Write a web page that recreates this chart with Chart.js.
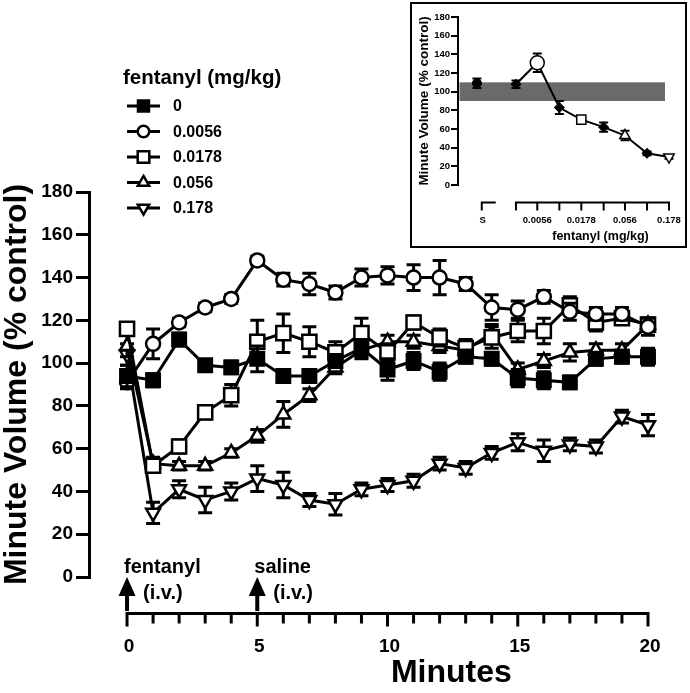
<!DOCTYPE html>
<html>
<head>
<meta charset="utf-8">
<script src="https://cdn.jsdelivr.net/npm/chart.js@4.4.1/dist/chart.umd.min.js"></script>
<style>
  body { margin: 0; background: #fff; overflow: hidden; }
  #main { position: absolute; left: 0; top: 0; }
  #insetBox { position: absolute; left: 410px; top: 2px; width: 273px; height: 242px; border: 2px solid #000; background: #fff; }
  #inset { display: block; }
</style>
</head>
<body>
<canvas id="main" width="690" height="693"></canvas>
<div id="insetBox"><canvas id="inset" width="273" height="242"></canvas></div>
<script>
// -- Data: main time course --
const minutes = [0, 1, 2, 3, 4, 5, 6, 7, 8, 9, 10, 11, 12, 13, 14, 15, 16, 17, 18, 19, 20];
const doseLabels = ['0', '0.0056', '0.0178', '0.056', '0.178'];

const vol0    = [94, 92, 111, 99, 98, 102, 94, 94, 101, 107, 97, 101, 96, 103, 102, 93, 92, 91, 102, 103, 103];
const vol0056 = [91, 109, 119, 126, 130, 148, 139, 137, 133, 140, 141, 140, 140, 137, 126, 125, 131, 124, 123, 123, 117];
const vol0178 = [116, 52, 61, 77, 85, 110, 114, 110, 105, 114, 105, 119, 112, 107, 112, 115, 115, 127, 119, 121, 118];
const vol056  = [108, 53, 52, 52, 58, 66, 76, 85, 98, 106, 110, 110, 108, 106, 114, 97, 101, 105, 106, 106, 118];
const vol178  = [104, 30, 41, 36, 40, 46, 43, 36, 34, 41, 43, 45, 53, 51, 58, 63, 59, 62, 61, 75, 71];

const err0    = [5, 3, 3, 2, 3, 6, 3, 3, 3, 4, 5, 4, 4, 3, 3, 4, 4, 3, 3, 3, 4];
const err0056 = [3, 7, 2, 2, 2, 2, 3, 5, 3, 4, 4, 6, 8, 3, 6, 4, 3, 4, 3, 3, 4];
const err0178 = [3, 3, 3, 3, 5, 10, 9, 7, 5, 7, 4, 3, 4, 4, 5, 5, 6, 4, 4, 3, 3];
const err056  = [5, 3, 2, 2, 2, 3, 6, 3, 3, 4, 3, 3, 3, 3, 4, 3, 3, 4, 3, 3, 3];
const err178  = [5, 5, 4, 6, 4, 6, 6, 3, 5, 3, 3, 3, 3, 3, 3, 4, 5, 3, 3, 3, 5];

const xTickLabels = [0, 5, 10, 15, 20];
const injections = [{ minute: 0, drug: 'fentanyl' }, { minute: 5, drug: 'saline' }];

// -- Data: inset dose-response --
const insetDoses = [0.0032, 0.0056, 0.01, 0.0178, 0.032, 0.056, 0.1, 0.178];
const insetValues = [108, 131, 83, 70, 62, 53, 34, 30];
const insetErrors = [4, 10, 7, 2, 5, 5, 2, 2];
const insetTickLabels = ['', '0.0056', '', '0.0178', '', '0.056', '', '0.178'];
const salineValue = 109;
const salineError = 5;
const controlBand = [90, 110];

const FONT = '"Liberation Sans", Arial, Helvetica, sans-serif';
Chart.defaults.font.family = FONT;
Chart.defaults.color = '#000';

function toPoints(xs, ys) {
    return xs.map((x, i) => ({ x: x, y: ys[i] }));
}

// simple marker, same shapes as chart.js uses
function drawMarker(ctx, style, x, y, r, rot, fill, lw) {
    ctx.save();
    ctx.beginPath();
    if (style === 'circle') {
        ctx.arc(x, y, r, 0, Math.PI * 2);
    } else if (style === 'rect') {
        const s = r * Math.SQRT1_2;
        ctx.rect(x - s, y - s, 2 * s, 2 * s);
    } else if (style === 'triangle') {
        const d = rot === 180 ? -1 : 1;
        ctx.moveTo(x, y - d * r);
        ctx.lineTo(x + r * 0.866, y + d * r / 2);
        ctx.lineTo(x - r * 0.866, y + d * r / 2);
        ctx.closePath();
    }
    ctx.fillStyle = fill;
    ctx.fill();
    ctx.lineWidth = lw;
    ctx.strokeStyle = '#000';
    ctx.stroke();
    ctx.restore();
}

// -- Error bars (drawn behind each dataset's markers) --
const errorBars = {
    id: 'errorBars',
    beforeDatasetDraw(chart, args, opts) {
        const ds = chart.data.datasets[args.index];
        if (!ds.errors) return;
        const ctx = chart.ctx;
        const yScale = chart.scales.y;
        ctx.save();
        ctx.strokeStyle = '#000';
        ctx.lineWidth = opts.lineWidth || 3;
        const cap = opts.cap || 7;
        args.meta.data.forEach((pt, i) => {
            const e = ds.errors[i];
            if (!e) return;
            const v = ds.data[i].y;
            const top = yScale.getPixelForValue(v + e);
            const bot = yScale.getPixelForValue(v - e);
            ctx.beginPath();
            ctx.moveTo(pt.x, top); ctx.lineTo(pt.x, bot);
            ctx.moveTo(pt.x - cap, top); ctx.lineTo(pt.x + cap, top);
            ctx.moveTo(pt.x - cap, bot); ctx.lineTo(pt.x + cap, bot);
            ctx.stroke();
        });
        ctx.restore();
    }
};

// -- Main chart decorations: offset x axis, legend, injection arrows --
const mainDecor = {
    id: 'mainDecor',
    afterDraw(chart) {
        const ctx = chart.ctx;
        const xs = chart.scales.x;
        const area = chart.chartArea;
        const axisY = area.bottom + 36.5;
        ctx.save();
        ctx.strokeStyle = '#000';
        ctx.fillStyle = '#000';

        // x axis
        ctx.lineWidth = 3;
        ctx.beginPath();
        ctx.moveTo(xs.getPixelForValue(0) - 1.5, axisY);
        ctx.lineTo(xs.getPixelForValue(20) + 1.5, axisY);
        for (let m = 0; m <= 20; m++) {
            const px = xs.getPixelForValue(m);
            ctx.moveTo(px, axisY);
            ctx.lineTo(px, axisY + (m % 5 === 0 ? 13 : 10));
        }
        ctx.stroke();
        ctx.font = 'bold 19px ' + FONT;
        ctx.textAlign = 'center';
        ctx.textBaseline = 'middle';
        xTickLabels.forEach(t => ctx.fillText(String(t), xs.getPixelForValue(t) + 2, axisY + 33));
        ctx.font = 'bold 32px ' + FONT;
        ctx.fillText('Minutes', xs.getPixelForValue(12.45), axisY + 60);

        // injection arrows
        injections.forEach(inj => {
            const px = xs.getPixelForValue(inj.minute);
            ctx.beginPath();
            ctx.moveTo(px, area.bottom);
            ctx.lineTo(px + 8.5, area.bottom + 19);
            ctx.lineTo(px - 8.5, area.bottom + 19);
            ctx.closePath();
            ctx.fill();
            ctx.fillRect(px - 2, area.bottom + 18, 4, 16);
            ctx.font = 'bold 20px ' + FONT;
            ctx.textAlign = 'left';
            ctx.textBaseline = 'alphabetic';
            ctx.fillText(inj.drug, px - 3, area.bottom - 4);
            ctx.textBaseline = 'middle';
            ctx.fillText('(i.v.)', px + 16, area.bottom + 16);
        });

        // legend
        ctx.font = 'bold 20.5px ' + FONT;
        ctx.textAlign = 'left';
        ctx.textBaseline = 'middle';
        ctx.fillText('fentanyl (mg/kg)', 123, 78);
        ctx.font = 'bold 16px ' + FONT;
        chart.data.datasets.forEach((ds, i) => {
            const ly = 106 + i * 25.5;
            ctx.lineWidth = 3;
            ctx.beginPath();
            ctx.moveTo(127, ly); ctx.lineTo(160, ly);
            ctx.stroke();
            drawMarker(ctx, ds.pointStyle, 143.5, ly, ds.pointRadius * 0.82, ds.pointRotation || 0,
                ds.pointBackgroundColor, 2.5);
            ctx.fillStyle = '#000';
            ctx.fillText(ds.label, 173, ly + 1);
        });
        ctx.restore();
    }
};

function series(label, values, errors, style, radius, fill, rotation) {
    return {
        label: label,
        data: toPoints(minutes, values),
        errors: errors,
        borderColor: '#000',
        borderWidth: 3,
        pointStyle: style,
        pointRadius: radius,
        pointRotation: rotation || 0,
        pointBackgroundColor: fill,
        pointBorderColor: '#000',
        pointBorderWidth: 2.5,
        tension: 0,
        clip: false
    };
}

new Chart(document.getElementById('main').getContext('2d'), {
    type: 'line',
    data: {
        datasets: [
            series(doseLabels[0], vol0, err0, 'rect', 9.5, '#000'),
            series(doseLabels[1], vol0056, err0056, 'circle', 7, '#fff'),
            series(doseLabels[2], vol0178, err0178, 'rect', 10, '#fff'),
            series(doseLabels[3], vol056, err056, 'triangle', 8, '#fff'),
            series(doseLabels[4], vol178, err178, 'triangle', 8, '#fff', 180)
        ]
    },
    options: {
        responsive: false,
        animation: false,
        devicePixelRatio: 1,
        layout: { padding: { left: 0, top: 192, right: 42, bottom: 116 } },
        plugins: {
            legend: { display: false },
            tooltip: { enabled: false },
            errorBars: { lineWidth: 3, cap: 7 }
        },
        scales: {
            x: { type: 'linear', min: -1.46, max: 20, display: false },
            y: {
                min: 0,
                max: 180,
                afterFit: s => { s.width = 89; },
                ticks: { stepSize: 20, padding: 3, color: '#000', font: { size: 19, weight: 'bold' } },
                grid: { drawOnChartArea: false, drawTicks: true, tickLength: 13, color: '#000', lineWidth: 3 },
                border: { color: '#000', width: 3 },
                title: {
                    display: true,
                    text: 'Minute Volume (% control)',
                    color: '#000',
                    font: { size: 32, weight: 'bold', lineHeight: 1.1 },
                    padding: { top: 0, bottom: 0 }
                }
            }
        }
    },
    plugins: [errorBars, mainDecor]
});

// -- Inset: dose-response --
const salineX = Math.log10(insetDoses[0]) - 0.445;

const insetDecor = {
    id: 'insetDecor',
    beforeDatasetsDraw(chart) {
        const ctx = chart.ctx;
        const xs = chart.scales.x, ys = chart.scales.y;
        const a = chart.chartArea;
        const top = ys.getPixelForValue(controlBand[1]);
        const bot = ys.getPixelForValue(controlBand[0]);
        const right = xs.getPixelForValue(Math.log10(insetDoses[insetDoses.length - 1])) - 4;
        ctx.save();
        ctx.fillStyle = '#6a6a6a';
        ctx.fillRect(a.left + 1.5, top, right - a.left - 1.5, bot - top);
        ctx.restore();
    },
    afterDraw(chart) {
        const ctx = chart.ctx;
        const xs = chart.scales.x;
        const axisY = chart.chartArea.bottom + 17.5;
        ctx.save();
        ctx.strokeStyle = '#000';
        ctx.fillStyle = '#000';
        ctx.lineWidth = 2;
        // saline bracket
        const sx = xs.getPixelForValue(salineX + 0.055);
        ctx.beginPath();
        ctx.moveTo(sx, axisY + 8); ctx.lineTo(sx, axisY); ctx.lineTo(sx + 14, axisY);
        // fentanyl axis
        const x0 = xs.getPixelForValue(Math.log10(insetDoses[0]));
        const x1 = xs.getPixelForValue(Math.log10(insetDoses[insetDoses.length - 1]));
        ctx.moveTo(x0 - 1, axisY); ctx.lineTo(x1 + 1, axisY);
        insetDoses.forEach(d => {
            const px = xs.getPixelForValue(Math.log10(d));
            ctx.moveTo(px, axisY); ctx.lineTo(px, axisY + 8);
        });
        ctx.stroke();
        ctx.font = 'bold 9.5px ' + FONT;
        ctx.textAlign = 'center';
        ctx.textBaseline = 'middle';
        ctx.fillText('S', sx + 1, axisY + 17.5);
        insetDoses.forEach((d, i) => {
            if (insetTickLabels[i]) ctx.fillText(insetTickLabels[i], xs.getPixelForValue(Math.log10(d)), axisY + 17.5);
        });
        ctx.font = 'bold 12.5px ' + FONT;
        ctx.fillText('fentanyl (mg/kg)', (x0 + x1) / 2 + 8, axisY + 34);
        ctx.restore();
    }
};

new Chart(document.getElementById('inset').getContext('2d'), {
    type: 'line',
    data: {
        datasets: [
            {
                label: 'fentanyl',
                data: toPoints(insetDoses.map(d => Math.log10(d)), insetValues),
                errors: insetErrors,
                borderColor: '#000',
                borderWidth: 2,
                pointStyle: ['rectRot', 'circle', 'rectRot', 'rect', 'rectRot', 'triangle', 'rectRot', 'triangle'],
                pointRadius: [4.5, 7, 4.5, 6.5, 4.5, 6, 4.5, 6],
                pointRotation: [0, 0, 0, 0, 0, 0, 0, 180],
                pointBackgroundColor: ['#000', '#fff', '#000', '#fff', '#000', '#fff', '#000', '#fff'],
                pointBorderColor: '#000',
                pointBorderWidth: 1.5,
                clip: false
            },
            {
                label: 'saline',
                data: [{ x: salineX, y: salineValue }],
                errors: [salineError],
                showLine: false,
                pointStyle: 'circle',
                pointRadius: 4.5,
                pointBackgroundColor: '#000',
                pointBorderColor: '#000',
                pointBorderWidth: 1,
                clip: false
            }
        ]
    },
    options: {
        responsive: false,
        animation: false,
        devicePixelRatio: 1,
        layout: { padding: { left: 0, top: 13, right: 16, bottom: 61 } },
        plugins: {
            legend: { display: false },
            tooltip: { enabled: false },
            errorBars: { lineWidth: 2, cap: 4.5 }
        },
        scales: {
            x: { type: 'linear', min: Math.log10(insetDoses[0]) - 0.661, max: Math.log10(insetDoses[insetDoses.length - 1]), display: false },
            y: {
                min: 0,
                max: 180,
                afterFit: s => { s.width = 46; },
                ticks: { stepSize: 20, padding: 1, color: '#000', font: { size: 9.5, weight: 'bold' } },
                grid: { drawOnChartArea: false, drawTicks: true, tickLength: 7, color: '#000', lineWidth: 2 },
                border: { color: '#000', width: 2 },
                title: {
                    display: true,
                    text: 'Minute Volume (% control)',
                    color: '#000',
                    font: { size: 13.5, weight: 'bold', lineHeight: 1.1 },
                    padding: { top: 5, bottom: 0 }
                }
            }
        }
    },
    plugins: [errorBars, insetDecor]
});
</script>
</body>
</html>
